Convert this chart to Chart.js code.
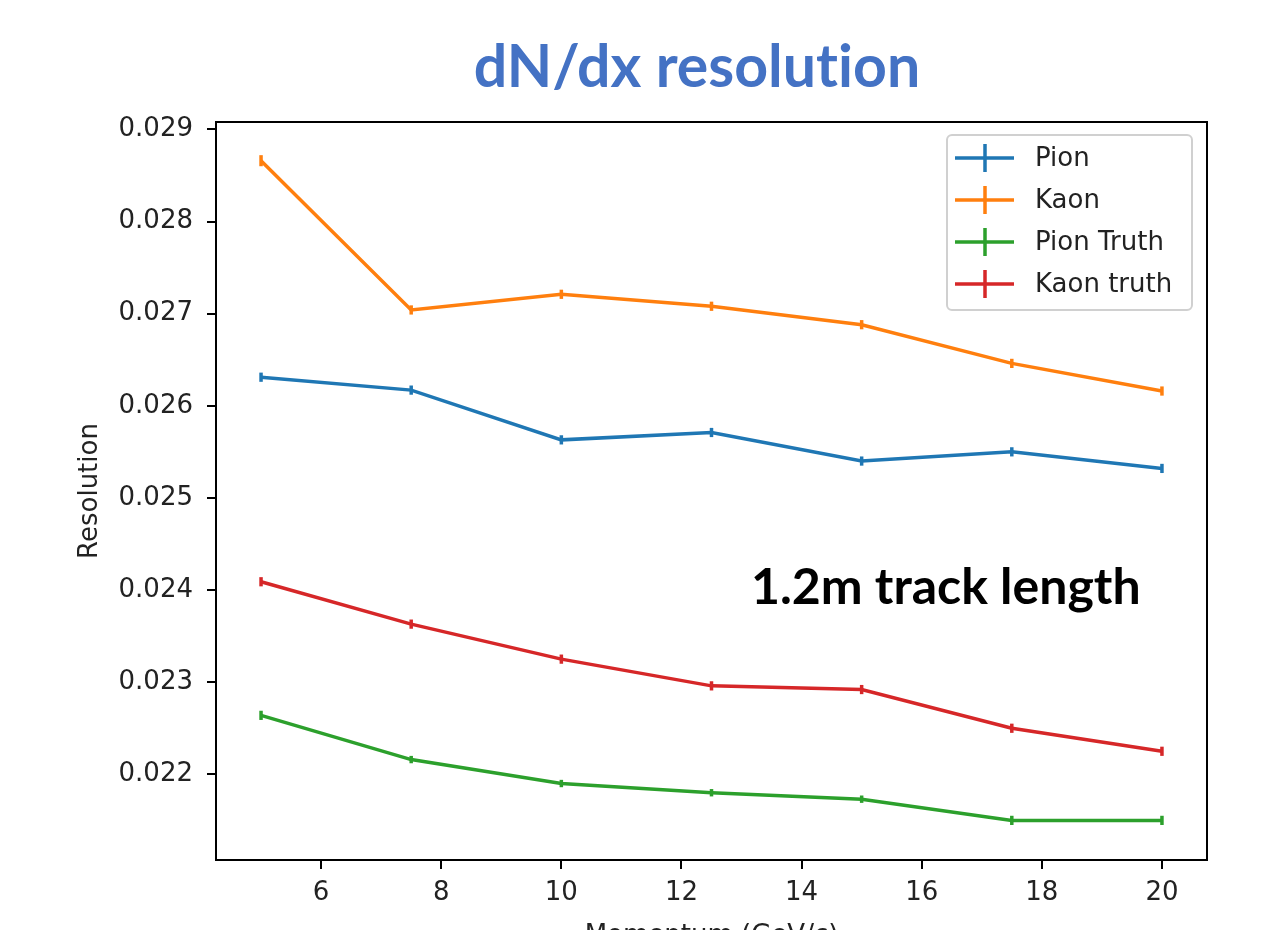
<!DOCTYPE html>
<html>
<head>
<meta charset="utf-8">
<script src="https://cdn.jsdelivr.net/npm/chart.js@4/dist/chart.umd.min.js"></script>
<style>
  html, body { margin: 0; padding: 0; background: #fff; overflow: hidden; }
  #wrap { position: relative; width: 1261px; height: 930px; overflow: hidden; }
  #title {
    position: absolute; left: 397px; top: 35px; width: 600px;
    text-align: center; font: bold 59px Lato, sans-serif; line-height: 1;
    font-variant-ligatures: none; color: #4472C4;
  }
  canvas { position: absolute; left: 0; top: 0; }
</style>
</head>
<body>
<div id="wrap">
  <div id="title">dN/dx resolution</div>
  <canvas id="chart" width="1261" height="960"></canvas>
</div>
<script>
'use strict';

// ── Data ─────────────────────────────────────────────────────────────────────

const momentum   = [5, 7.5, 10, 12.5, 15, 17.5, 20];
const pion       = [0.02631, 0.02617, 0.02563, 0.02571, 0.02540, 0.02550, 0.02532];
const kaon       = [0.02866, 0.02704, 0.02721, 0.02708, 0.02688, 0.02646, 0.02616];
const pionTruth  = [0.02264, 0.02216, 0.02190, 0.02180, 0.02173, 0.02150, 0.02150];
const kaonTruth  = [0.02409, 0.02363, 0.02325, 0.02296, 0.02292, 0.02250, 0.02225];

const pionErr      = [0.00005, 0.00005, 0.00005, 0.00005, 0.00005, 0.00005, 0.00005];
const kaonErr      = [0.00006, 0.00005, 0.00005, 0.00005, 0.00005, 0.00005, 0.00005];
const pionTruthErr = [0.00005, 0.00004, 0.00004, 0.00004, 0.00004, 0.00005, 0.00005];
const kaonTruthErr = [0.00005, 0.00005, 0.00005, 0.00005, 0.00005, 0.00005, 0.00005];

const seriesNames = ['Pion', 'Kaon', 'Pion Truth', 'Kaon truth'];
const colors      = ['#1f77b4', '#ff7f0e', '#2ca02c', '#d62728'];

const annotation = { text: '1.2m track length', x: 16.4, y: 0.02402 };

// ── Helpers ──────────────────────────────────────────────────────────────────

const TICK_FONT = { family: '"DejaVu Sans", sans-serif', size: 26 };
const toPoints = ys => momentum.map((x, i) => ({ x, y: ys[i] }));

function makeSet(i, ys, errs) {
  return {
    label: seriesNames[i],
    data: toPoints(ys),
    errors: errs,
    borderColor: colors[i],
    backgroundColor: colors[i],
    borderWidth: 3.5,
    pointRadius: 0,
    tension: 0,
    fill: false
  };
}

// error bars, legend, frame and text annotation
const extras = {
  id: 'extras',
  afterDatasetsDraw(chart) {
    const { ctx, chartArea: a, scales: { x, y } } = chart;
    ctx.save();

    // error bars
    chart.data.datasets.forEach(ds => {
      ctx.strokeStyle = ds.borderColor;
      ctx.lineWidth = 3.5;
      ds.data.forEach((p, i) => {
        const px = x.getPixelForValue(p.x);
        ctx.beginPath();
        ctx.moveTo(px, y.getPixelForValue(p.y - ds.errors[i]));
        ctx.lineTo(px, y.getPixelForValue(p.y + ds.errors[i]));
        ctx.stroke();
      });
    });

    // frame
    ctx.strokeStyle = '#000';
    ctx.lineWidth = 2;
    ctx.strokeRect(a.left, a.top, a.right - a.left, a.bottom - a.top);

    // annotation
    ctx.fillStyle = '#000';
    ctx.font = 'bold 50px Lato, sans-serif';
    ctx.textAlign = 'center';
    ctx.textBaseline = 'middle';
    ctx.fillText(annotation.text, x.getPixelForValue(annotation.x), y.getPixelForValue(annotation.y));

    // legend
    const bx = a.right - 260, by = a.top + 13, bw = 245, bh = 175;
    ctx.fillStyle = 'rgba(255,255,255,0.8)';
    ctx.strokeStyle = '#d0d0d0';
    ctx.lineWidth = 2;
    ctx.beginPath();
    ctx.roundRect(bx, by, bw, bh, 5);
    ctx.fill();
    ctx.stroke();
    ctx.font = '26px "DejaVu Sans", sans-serif';
    ctx.textAlign = 'left';
    chart.data.datasets.forEach((ds, i) => {
      const cy = by + 23 + i * 42;
      ctx.strokeStyle = ds.borderColor;
      ctx.lineWidth = 3.5;
      ctx.beginPath();
      ctx.moveTo(bx + 8, cy); ctx.lineTo(bx + 67, cy);
      ctx.moveTo(bx + 38, cy - 14); ctx.lineTo(bx + 38, cy + 14);
      ctx.stroke();
      ctx.fillStyle = '#222';
      ctx.fillText(ds.label, bx + 88, cy + 1);
    });
    ctx.restore();
  }
};

// ── Chart ────────────────────────────────────────────────────────────────────

new Chart(document.getElementById('chart'), {
  type: 'line',
  data: {
    datasets: [
      makeSet(0, pion, pionErr),
      makeSet(1, kaon, kaonErr),
      makeSet(2, pionTruth, pionTruthErr),
      makeSet(3, kaonTruth, kaonTruthErr)
    ]
  },
  options: {
    responsive: false,
    animation: false,
    layout: { padding: { top: 122, right: 54, bottom: 0, left: 0 } },
    plugins: { legend: { display: false }, tooltip: { enabled: false } },
    scales: {
      x: {
        type: 'linear',
        min: 4.25, max: 20.75,
        afterFit: s => { s.height = 100; },
        ticks: { stepSize: 2, includeBounds: false, color: '#222', font: TICK_FONT, padding: 9, maxRotation: 0 },
        grid: { drawOnChartArea: false, drawTicks: true, tickLength: 9, color: '#000', lineWidth: 2 },
        border: { display: true, color: '#000', width: 2 },
        title: { display: true, text: 'Momentum (GeV/c)', color: '#222', font: TICK_FONT, padding: { bottom: 8 } }
      },
      y: {
        type: 'linear',
        min: 0.02107, max: 0.02908,
        afterFit: s => { s.width = 216; },
        ticks: { stepSize: 0.001, includeBounds: false, color: '#222', font: TICK_FONT, padding: 14,
                 callback: v => v.toFixed(3) },
        grid: { drawOnChartArea: false, drawTicks: true, tickLength: 9, color: '#000', lineWidth: 2 },
        border: { display: true, color: '#000', width: 2 },
        title: { display: true, text: 'Resolution', color: '#222', font: TICK_FONT, padding: { top: 75 } }
      }
    }
  },
  plugins: [extras]
});
</script>
</body>
</html>
